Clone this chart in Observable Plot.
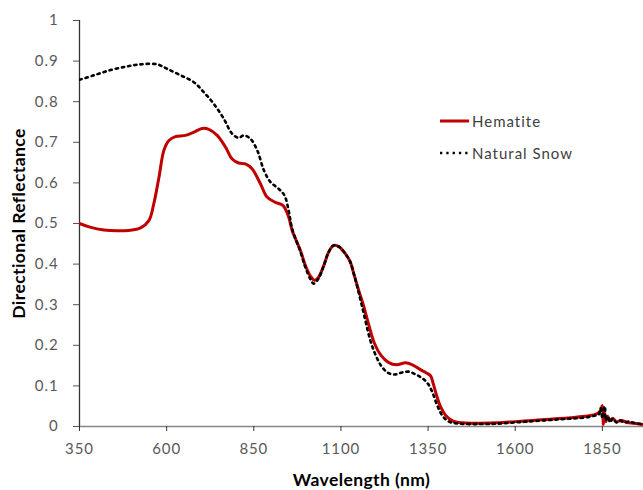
<!DOCTYPE html>
<html>
<head>
<meta charset="utf-8">
<script src="https://cdn.jsdelivr.net/npm/d3@7"></script>
<script src="https://cdn.jsdelivr.net/npm/@observablehq/plot@0.6"></script>
<style>
  html, body { margin: 0; padding: 0; background: #fff; }
  #wrap { position: relative; width: 643px; height: 490px; font-family: Lato, "Open Sans", sans-serif; }
  #legend { position: absolute; left: 440px; top: 110px; font-size: 15px; color: #404040; letter-spacing: 1px; }
  #legend .row { display: flex; align-items: center; height: 22px; margin-bottom: 10px; }
  #legend svg { margin-right: 3px; }
  svg g[aria-label="x-axis tick label"] text, svg g[aria-label="y-axis tick label"] text { letter-spacing: 0.9px; }
</style>
</head>
<body>
<div id="wrap"><div id="legend"></div></div>
<script>
const seriesNames = ["Hematite", "Natural Snow"];
const xTicks = [350, 600, 850, 1100, 1350, 1600, 1850];
const yTicks = [0, 0.1, 0.2, 0.3, 0.4, 0.5, 0.6, 0.7, 0.8, 0.9, 1];

const hematiteNm = [350, 380, 420, 460, 490, 525, 549, 563, 578, 592, 606, 625, 654, 678, 702, 721, 745, 769, 788, 807, 826, 845, 869, 888, 912, 934, 950, 960, 984, 998, 1013, 1025, 1036, 1051, 1065, 1079, 1094, 1113, 1127, 1137, 1151, 1164, 1180, 1196, 1215, 1236, 1260, 1285, 1305, 1328, 1345, 1357, 1365, 1375, 1385, 1400, 1420, 1450, 1500, 1550, 1600, 1650, 1700, 1750, 1800, 1830, 1840, 1846, 1850, 1853, 1856, 1860, 1865, 1872, 1880, 1890, 1905, 1920, 1940, 1968];
const hematiteR = [0.500, 0.491, 0.484, 0.482, 0.483, 0.489, 0.507, 0.548, 0.614, 0.680, 0.704, 0.714, 0.717, 0.725, 0.734, 0.732, 0.717, 0.688, 0.659, 0.649, 0.647, 0.635, 0.598, 0.565, 0.552, 0.544, 0.516, 0.483, 0.433, 0.397, 0.370, 0.360, 0.368, 0.397, 0.430, 0.446, 0.443, 0.425, 0.405, 0.376, 0.335, 0.300, 0.250, 0.205, 0.175, 0.158, 0.152, 0.157, 0.152, 0.140, 0.132, 0.125, 0.105, 0.075, 0.050, 0.028, 0.014, 0.009, 0.008, 0.009, 0.012, 0.015, 0.018, 0.021, 0.025, 0.030, 0.035, 0.042, 0.052, 0.005, 0.035, 0.012, 0.025, 0.015, 0.020, 0.012, 0.015, 0.010, 0.008, 0.005];

const snowNm = [350, 391, 439, 487, 525, 573, 601, 640, 678, 707, 735, 764, 788, 807, 821, 840, 860, 879, 898, 922, 938, 950, 960, 984, 998, 1013, 1022, 1036, 1051, 1065, 1079, 1094, 1113, 1127, 1137, 1151, 1165, 1185, 1200, 1215, 1235, 1255, 1275, 1295, 1315, 1335, 1350, 1362, 1375, 1390, 1410, 1440, 1500, 1550, 1600, 1650, 1700, 1750, 1800, 1830, 1840, 1845, 1850, 1853, 1857, 1860, 1866, 1872, 1880, 1890, 1900, 1912, 1925, 1945, 1968];
const snowR = [0.854, 0.865, 0.878, 0.887, 0.892, 0.892, 0.881, 0.865, 0.848, 0.823, 0.795, 0.758, 0.721, 0.711, 0.717, 0.709, 0.680, 0.631, 0.602, 0.585, 0.569, 0.532, 0.487, 0.430, 0.392, 0.362, 0.352, 0.365, 0.397, 0.430, 0.446, 0.443, 0.425, 0.405, 0.376, 0.330, 0.280, 0.210, 0.175, 0.150, 0.132, 0.128, 0.133, 0.135, 0.128, 0.118, 0.105, 0.085, 0.055, 0.028, 0.012, 0.007, 0.006, 0.007, 0.010, 0.013, 0.016, 0.019, 0.022, 0.027, 0.030, 0.045, 0.020, 0.040, 0.050, 0.015, 0.025, 0.010, 0.020, 0.010, 0.015, 0.010, 0.012, 0.008, 0.005];

const hematite = hematiteNm.map((x, i) => ({x, y: hematiteR[i]}));
const snow = snowNm.map((x, i) => ({x, y: snowR[i]}));

const RED = "#C00000";
const tickColor = "#595959";
const DOTS = "2.3,4";

const chart = Plot.plot({
  width: 643,
  height: 490,
  marginLeft: 79,
  marginRight: 0,
  marginTop: 20,
  marginBottom: 64,
  style: {fontFamily: "Lato, 'Open Sans', sans-serif", background: "#fff", overflow: "visible"},
  x: {domain: [350, 1968], ticks: xTicks},
  y: {domain: [0, 1], ticks: yTicks},
  marks: [
    Plot.ruleY([0], {stroke: "#868686", strokeWidth: 1.3}),
    Plot.ruleX([350], {stroke: "#333", strokeWidth: 1.3}),
    Plot.axisX({ticks: xTicks, tickSize: 5, tickPadding: 12, fontSize: 15, color: tickColor, stroke: "#333",
      tickFormat: d => String(d), label: "Wavelength (nm)", labelAnchor: "center", labelArrow: "none", labelOffset: 59}),
    Plot.axisY({ticks: yTicks, tickSize: 6, tickPadding: 15, fontSize: 15, color: tickColor, stroke: "#555",
      tickFormat: d => d === 0 ? "0" : d === 1 ? "1" : String(+d.toFixed(1)),
      label: "Directional Reflectance", labelAnchor: "center", labelArrow: "none", labelOffset: 67}),
    Plot.line(hematite, {x: "x", y: "y", stroke: RED, strokeWidth: 3, curve: "catmull-rom", clip: true}),
    Plot.line(snow, {x: "x", y: "y", stroke: "#000", strokeWidth: 2.6, strokeDasharray: DOTS, curve: "catmull-rom", clip: true})
  ]
});

// bold, dark axis titles
chart.querySelectorAll("g[aria-label='x-axis label'], g[aria-label='y-axis label']").forEach(g => {
  g.setAttribute("fill", "#000");
  g.setAttribute("font-weight", "bold");
  g.setAttribute("font-size", "17.5");
  g.style.letterSpacing = "0.4px";
  g.querySelectorAll("text").forEach(t => {
    t.setAttribute("fill", "#000");
    t.setAttribute("font-weight", "bold");
    t.setAttribute("font-size", "17.5");
  });
});

const wrap = document.getElementById("wrap");
wrap.insertBefore(chart, wrap.firstChild);

const legend = document.getElementById("legend");
const styles = [{stroke: RED, width: 3, dash: null}, {stroke: "#000", width: 2.6, dash: DOTS}];
seriesNames.forEach((name, i) => {
  const row = document.createElement("div");
  row.className = "row";
  const s = styles[i];
  row.innerHTML = `<svg width="29" height="10"><line x1="0" x2="29" y1="5" y2="5" stroke="${s.stroke}" stroke-width="${s.width}" ${s.dash ? `stroke-dasharray="${s.dash}"` : ""}/></svg><span>${name}</span>`;
  legend.appendChild(row);
});
</script>
</body>
</html>
